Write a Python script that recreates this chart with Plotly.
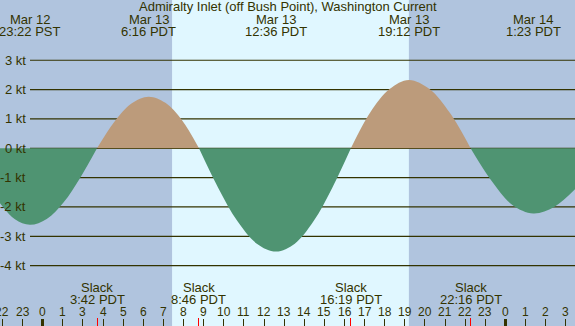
import plotly.graph_objects as go

# ---------------- data (hours since Mar 13 00:00 PST) ----------------
title_text = "Admiralty Inlet (off Bush Point), Washington Current"

# half-cycles: times (h) and current (kt)
ebb1_t = [-2.122, -1.378, -0.633, 0.200, 1.033, 1.867, 2.700]
ebb1_v = [-1.87, -2.42, -2.61, -2.41, -1.85, -1.00, 0.0]

flood1_t = [2.700, 3.556, 4.411, 5.267, 6.100, 6.933, 7.767]
flood1_v = [0.0, 0.90, 1.53, 1.76, 1.55, 0.95, 0.0]

ebb2_t = [7.767, 8.725, 9.683, 10.642, 11.600, 12.529, 13.458, 14.388, 15.317]
ebb2_v = [0.0, -1.35, -2.49, -3.25, -3.52, -3.25, -2.49, -1.35, 0.0]

flood2_t = [15.317, 16.278, 17.239, 18.200, 19.222, 20.244, 21.267]
flood2_v = [0.0, 1.22, 2.02, 2.33, 2.02, 1.20, 0.0]

ebb3_t = [21.267, 22.306, 23.344, 24.383, 25.420, 26.456]
ebb3_v = [0.0, -1.11, -1.93, -2.22, -2.00, -1.40]

# extremes labels
extreme_t = [-0.633, 5.267, 11.60, 18.20, 24.383]
extreme_dates = ["Mar 12", "Mar 13", "Mar 13", "Mar 13", "Mar 14"]
extreme_times = ["23:22 PST", "6:16 PDT", "12:36 PDT", "19:12 PDT", "1:23 PDT"]

# slack labels
slack_t = [2.70, 7.767, 15.317, 21.267]
slack_times = ["3:42 PDT", "8:46 PDT", "16:19 PDT", "22:16 PDT"]

# daylight
sunrise_t = 6.43
sunset_t = 18.20

# hour ticks (clock labels, DST change at 2:00)
hour_ticks = list(range(-2, 27))
hour_labels = ["22", "23", "0", "1", "3", "4", "5", "6", "7", "8", "9", "10",
               "11", "12", "13", "14", "15", "16", "17", "18", "19", "20",
               "21", "22", "23", "0", "1", "2", "3"]
midnight_ticks = [0, 23]

# y ticks
kt_vals = [3, 2, 1, 0, -1, -2, -3, -4]
kt_labels = ["3 kt", "2 kt", "1 kt", "0 kt", "-1 kt", "-2 kt", "-3 kt", "-4 kt"]

# ---------------- style ----------------
W, H = 575, 326
NIGHT = "#b0c4de"
DAY = "#e0f7ff"
FLOOD = "#bc9b7b"
EBB = "#4f9472"
INK = "#333300"
FONT = "Liberation Sans, Arial, sans-serif"
XR = [-2.122, 26.456]
YR = [-6.057, 5.054]


def py(px):
    return 1 - px / H


fig = go.Figure()

for t, v, c in [(ebb1_t, ebb1_v, EBB), (flood1_t, flood1_v, FLOOD),
                (ebb2_t, ebb2_v, EBB), (flood2_t, flood2_v, FLOOD),
                (ebb3_t, ebb3_v, EBB)]:
    fig.add_trace(go.Scatter(x=t, y=v, mode="lines", fill="tozeroy",
                             fillcolor=c, line=dict(width=0, shape="spline", color=c),
                             hoverinfo="skip", showlegend=False))

# empty traces to activate overlay axes
fig.add_trace(go.Scatter(x=[], y=[], xaxis="x2", showlegend=False))
fig.add_trace(go.Scatter(x=[], y=[], xaxis="x3", showlegend=False))

shapes = [dict(type="rect", xref="x", yref="paper", x0=sunrise_t, x1=sunset_t,
               y0=0, y1=1, fillcolor=DAY, line=dict(width=0), layer="below")]
for v in kt_vals:
    shapes.append(dict(type="line", xref="paper", yref="y", x0=30 / W, x1=1,
                       y0=v, y1=v, line=dict(color=INK, width=1.2), layer="below"))

ann = []
ann.append(dict(text=title_text, x=0.5, xref="paper", y=py(6.5), yref="paper",
                showarrow=False, font=dict(size=13, color=INK, family=FONT),
                xanchor="center", yanchor="middle"))
for t, d, tm in zip(extreme_t, extreme_dates, extreme_times):
    ann.append(dict(text=d, x=t, xref="x", y=py(19.5), yref="paper", showarrow=False,
                    font=dict(size=13, color=INK, family=FONT), xanchor="center", yanchor="middle"))
    ann.append(dict(text=tm, x=t, xref="x", y=py(31.5), yref="paper", showarrow=False,
                    font=dict(size=13, color=INK, family=FONT), xanchor="center", yanchor="middle"))
for t, tm in zip(slack_t, slack_times):
    ann.append(dict(text="Slack", x=t, xref="x", y=py(287), yref="paper", showarrow=False,
                    font=dict(size=13, color=INK, family=FONT), xanchor="center", yanchor="middle"))
    ann.append(dict(text=tm, x=t, xref="x", y=py(299), yref="paper", showarrow=False,
                    font=dict(size=13, color=INK, family=FONT), xanchor="center", yanchor="middle"))
for t, lab in zip(hour_ticks, hour_labels):
    ann.append(dict(text=lab, x=t, xref="x", y=py(311.8), yref="paper", showarrow=False,
                    font=dict(size=12, color=INK, family=FONT), xanchor="center", yanchor="middle"))
for v, lab in zip(kt_vals, kt_labels):
    ann.append(dict(text=lab, x=28 / W, xref="paper", y=v, yref="y", showarrow=False,
                    font=dict(size=13, color=INK, family=FONT), xanchor="right", yanchor="middle"))

common_x = dict(range=XR, showgrid=False, zeroline=False, showline=False,
                showticklabels=False, ticks="inside", fixedrange=True)

fig.update_layout(
    width=W, height=H,
    margin=dict(l=0, r=0, t=0, b=0, pad=0),
    paper_bgcolor=NIGHT, plot_bgcolor=NIGHT,
    showlegend=False,
    xaxis=dict(**common_x, tickvals=hour_ticks, ticklen=7, tickwidth=1, tickcolor=INK),
    xaxis2=dict(**common_x, overlaying="x", anchor="y", tickvals=midnight_ticks,
                ticklen=7, tickwidth=3, tickcolor=INK),
    xaxis3=dict(**common_x, overlaying="x", anchor="y", tickvals=slack_t,
                ticklen=8, tickwidth=1, tickcolor="#ff0000"),
    yaxis=dict(range=YR, showgrid=False, zeroline=False, showline=False,
               showticklabels=False, ticks="", fixedrange=True),
    shapes=shapes,
    annotations=ann,
)

fig.write_html("out.html", config={"displayModeBar": False},
               post_script="document.body.style.margin='0';document.body.style.overflow='hidden';")
